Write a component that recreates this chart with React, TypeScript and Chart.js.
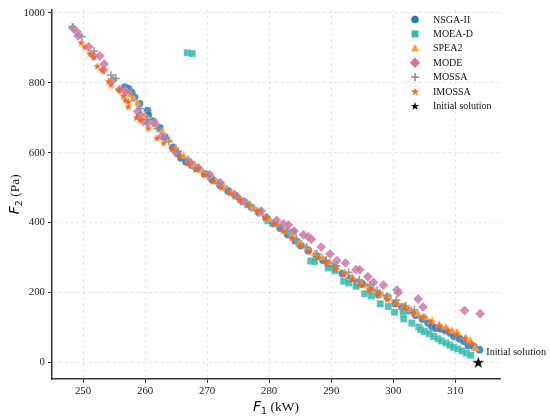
import { useEffect, useRef } from "react"
import { Chart, registerables, Plugin } from "chart.js"

Chart.register(...registerables)

type Pt = [number, number]

const xTicks = [250, 260, 270, 280, 290, 300, 310]
const yTicks = [0, 200, 400, 600, 800, 1000]

const nsga2: Pt[] = [
  [256.7, 787], [257.3, 783], [257.8, 772], [258.3, 758], [259.1, 740], [260.4, 720],
  [260.5, 708], [261.3, 690], [262.4, 671], [263.2, 645], [264.5, 615], [265.2, 598],
  [265.8, 585], [266.6, 574], [267.5, 565], [268.3, 556], [269.6, 540], [270.8, 523],
  [272.1, 507], [273.4, 490], [274.6, 476], [275.9, 460], [277.2, 443], [278.4, 428],
  [279.5, 414], [280.6, 398], [281.8, 384], [283.0, 366], [284.2, 348], [285.1, 334],
  [286.3, 320], [287.6, 304], [288.7, 292], [289.6, 281], [290.1, 276], [290.5, 270],
  [291.8, 254], [293.1, 240], [294.2, 229], [295.0, 224], [296.4, 206], [297.6, 194],
  [299.1, 186], [300.3, 168], [301.4, 158], [302.5, 148], [303.6, 135], [304.7, 124],
  [305.6, 113], [306.2, 103], [306.8, 98], [307.6, 96], [308.4, 91], [309.2, 84],
  [309.8, 74], [310.7, 67], [311.4, 60], [312.1, 48], [313.0, 44], [313.9, 36],
]

const moead: Pt[] = [
  [266.8, 886], [267.6, 884],
  [276.5, 452], [279.8, 405], [282.8, 378], [283.9, 372], [284.8, 340], [286.7, 290],
  [287.3, 288], [289.5, 270], [290.6, 262], [292.0, 232], [292.8, 227], [294.0, 218],
  [295.4, 196], [296.5, 190], [297.9, 167], [299.2, 160], [300.2, 143], [301.6, 139],
  [301.7, 124], [303.0, 112], [304.1, 101], [304.4, 93], [305.0, 88], [305.8, 82],
  [306.5, 74], [307.2, 67], [307.8, 61], [308.5, 55], [309.1, 49], [309.7, 43],
  [310.4, 38], [311.1, 32], [311.8, 26], [312.5, 20],
]

const spea2: Pt[] = [
  [257.0, 775], [257.6, 765], [258.2, 752], [258.8, 741], [260.0, 705], [260.6, 690],
  [261.6, 680], [262.8, 660], [263.9, 636], [265.0, 612], [266.2, 592], [267.1, 578],
  [268.0, 566], [269.2, 548], [270.3, 535], [271.5, 518], [272.7, 503], [273.9, 488],
  [275.1, 472], [276.3, 458], [277.5, 442], [278.8, 425], [280.0, 410], [281.2, 396],
  [282.5, 378], [283.7, 362], [284.9, 342], [286.1, 328], [287.4, 312], [288.5, 300],
  [289.7, 286], [290.9, 270], [292.2, 256], [293.4, 242], [294.6, 230], [295.8, 218],
  [297.0, 205], [298.2, 194], [299.3, 182], [300.6, 170], [301.8, 160], [302.9, 150],
  [304.0, 138], [305.2, 128], [306.3, 118], [307.4, 108], [308.5, 100], [309.5, 90],
  [310.3, 86], [311.7, 70], [312.4, 62], [313.2, 39],
]

const mode: Pt[] = [
  [248.4, 956], [249.0, 946], [249.2, 934], [250.9, 903], [251.7, 877], [252.7, 877],
  [253.4, 854], [253.3, 837], [254.8, 808], [255.9, 780], [256.9, 775], [258.8, 718],
  [259.2, 709], [259.7, 689], [260.4, 684], [261.6, 684], [262.7, 647], [264.8, 604],
  [267.3, 571], [268.6, 556], [270.4, 537], [272.1, 514], [274.4, 480], [275.5, 462],
  [278.7, 433], [281.2, 406], [282.3, 396], [283.1, 393], [284.0, 376], [285.5, 365],
  [286.3, 359], [286.8, 352], [288.4, 330], [289.8, 310], [290.9, 291], [292.3, 284],
  [294.0, 265], [294.6, 265], [295.9, 245], [296.8, 229], [298.4, 221], [300.6, 207],
  [300.8, 200], [304.0, 181], [304.8, 158], [311.5, 148], [314.0, 139],
]

const mossa: Pt[] = [
  [248.3, 960], [249.8, 932], [251.8, 891], [254.5, 822], [255.3, 813], [257.9, 772],
  [259.2, 726], [260.3, 694], [262.0, 668], [263.8, 632], [265.3, 604], [266.9, 580],
  [268.6, 555], [270.1, 534], [271.8, 512], [273.2, 495], [274.8, 476], [276.4, 455],
  [278.1, 434], [279.6, 416], [281.3, 392], [282.9, 374], [284.4, 352], [286.0, 330],
  [287.7, 310], [289.2, 292], [290.8, 276], [292.8, 257], [294.5, 236], [296.2, 221],
  [297.4, 206], [299.0, 190], [300.5, 178], [302.0, 162], [303.4, 150], [304.9, 129],
]

const imossa: Pt[] = [
  [249.7, 915], [250.3, 903], [251.1, 884], [251.7, 875], [252.3, 848], [253.1, 837],
  [254.1, 805], [254.5, 794], [255.8, 780], [256.5, 763], [256.8, 751], [257.3, 747],
  [257.3, 732], [258.6, 701], [259.2, 695], [260.5, 670], [261.9, 642], [263.0, 628],
  [264.3, 612], [265.6, 590], [266.9, 570], [268.2, 552], [269.5, 538], [270.9, 518],
  [272.3, 500], [273.7, 484], [275.2, 466], [276.6, 450], [278.0, 432], [279.4, 414],
  [280.8, 396], [282.2, 376], [283.6, 356], [285.0, 336], [286.4, 318], [287.8, 300],
  [289.2, 286], [290.6, 270], [292.0, 252], [293.4, 238], [294.8, 222], [296.2, 208],
  [297.6, 196], [299.0, 180], [300.4, 168], [301.8, 155], [303.2, 142], [304.6, 128],
  [306.0, 116], [307.4, 104], [308.8, 92], [310.2, 80], [311.5, 68], [312.6, 55],
]

const initialSolution: Pt[] = [[313.7, 0]]

const seriesNames = ["NSGA-II", "MOEA-D", "SPEA2", "MODE", "MOSSA", "IMOSSA", "Initial solution"]
const seriesData = [nsga2, moead, spea2, mode, mossa, imossa, initialSolution]
const seriesColors = [
  "rgba(47,120,184,0.85)",
  "rgba(52,186,172,0.85)",
  "rgba(255,155,50,0.85)",
  "rgba(204,121,167,0.85)",
  "rgba(145,145,145,0.85)",
  "#ff6414",
  "#000000",
]

const serif = "'Liberation Serif', 'Times New Roman', serif"

function starPath(g: CanvasRenderingContext2D, cx: number, cy: number, r: number) {
  g.beginPath()
  for (let i = 0; i < 10; i++) {
    const a = -Math.PI / 2 + (i * Math.PI) / 5
    const rr = i % 2 === 0 ? r : r * 0.382
    g.lineTo(cx + rr * Math.cos(a), cy + rr * Math.sin(a))
  }
  g.closePath()
}

function starImage(color: string, r: number) {
  const size = Math.ceil(r * 2 + 2)
  const c = document.createElement("canvas")
  c.width = size
  c.height = size
  const g = c.getContext("2d")!
  starPath(g, size / 2, size / 2 + r * 0.1, r)
  g.fillStyle = color
  g.fill()
  return c
}

function drawMarker(g: CanvasRenderingContext2D, kind: number, x: number, y: number, color: string) {
  g.save()
  g.fillStyle = color
  g.strokeStyle = color
  g.beginPath()
  if (kind === 0) {
    g.arc(x, y, 3.8, 0, Math.PI * 2)
    g.fill()
  } else if (kind === 1) {
    g.rect(x - 3.5, y - 3.5, 7, 7)
    g.fill()
  } else if (kind === 2) {
    g.moveTo(x, y - 4.2)
    g.lineTo(x + 3.9, y + 2.9)
    g.lineTo(x - 3.9, y + 2.9)
    g.closePath()
    g.fill()
  } else if (kind === 3) {
    g.moveTo(x, y - 5.2)
    g.lineTo(x + 5.2, y)
    g.lineTo(x, y + 5.2)
    g.lineTo(x - 5.2, y)
    g.closePath()
    g.fill()
  } else if (kind === 4) {
    g.lineWidth = 1.7
    g.moveTo(x - 3.9, y)
    g.lineTo(x + 3.9, y)
    g.moveTo(x, y - 3.9)
    g.lineTo(x, y + 3.9)
    g.stroke()
  } else {
    starPath(g, x, y + 0.4, 4.4)
    g.fill()
  }
  g.restore()
}

function drawMathLabel(
  g: CanvasRenderingContext2D, cx: number, baseline: number,
  sym: string, sub: string, rest: string
) {
  const symFont = "italic 14px 'DejaVu Sans'"
  const subFont = "9.5px 'DejaVu Sans'"
  const restFont = `13.5px ${serif}`
  g.font = symFont
  const w1 = g.measureText(sym).width
  g.font = subFont
  const w2 = g.measureText(sub).width
  g.font = restFont
  const w3 = g.measureText(rest).width
  let x = cx - (w1 + w2 + w3) / 2
  g.fillStyle = "#111"
  g.textBaseline = "alphabetic"
  g.textAlign = "left"
  g.font = symFont
  g.fillText(sym, x, baseline)
  x += w1
  g.font = subFont
  g.fillText(sub, x, baseline + 3)
  x += w2
  g.font = restFont
  g.fillText(rest, x, baseline)
}

const overlayPlugin: Plugin<"scatter"> = {
  id: "overlay",
  afterDraw(chart) {
    const { ctx, chartArea, scales } = chart
    const g = ctx
    g.save()
    // axis titles
    drawMathLabel(g, (chartArea.left + chartArea.right) / 2, 411, "F", "1", " (kW)")
    g.save()
    g.translate(19, (chartArea.top + chartArea.bottom) / 2)
    g.rotate(-Math.PI / 2)
    drawMathLabel(g, 0, 0, "F", "2", " (Pa)")
    g.restore()

    // legend
    const lx = 415
    const ty = 19.5
    seriesNames.forEach((name, i) => {
      const y = ty + i * 14.4
      drawMarker(g, i === 6 ? 5 : i, lx, y, i === 6 ? "#000" : seriesColors[i].replace("0.85", "1"))
      g.fillStyle = "#111"
      g.font = `10px ${serif}`
      g.textAlign = "left"
      g.textBaseline = "middle"
      g.fillText(name, lx + 18, y + 0.5)
    })

    // annotation
    const px = scales.x.getPixelForValue(initialSolution[0][0])
    const py = scales.y.getPixelForValue(initialSolution[0][1])
    g.font = `10.2px ${serif}`
    g.fillStyle = "#111"
    g.textAlign = "left"
    g.textBaseline = "middle"
    g.fillText("Initial solution", px + 8, py - 10)
    g.restore()
  },
}

export default function App() {
  const canvasRef = useRef<HTMLCanvasElement>(null)

  useEffect(() => {
    document.body.style.margin = "0"
    if (!canvasRef.current) return

    const smallStar = starImage("#ff6414", 4.2)
    const bigStar = starImage("#000", 6.2)
    const styles: any[] = ["circle", "rect", "triangle", "rectRot", "cross", smallStar, bigStar]
    const radii = [4, 5, 4.6, 5, 4, 4.2, 6.2]

    const datasets = seriesData.map((pts, i) => ({
      label: seriesNames[i],
      data: pts.map(([x, y]) => ({ x, y })),
      pointStyle: styles[i],
      pointRadius: radii[i],
      pointBackgroundColor: seriesColors[i],
      pointBorderColor: i === 4 ? seriesColors[i] : "rgba(255,255,255,0.5)",
      pointBorderWidth: i === 4 ? 1.7 : 0.4,
      order: 6 - i,
    }))

    const tickFont = { family: serif, size: 10.8 }
    const plain = (v: any) => String(v)

    const chart = new Chart(canvasRef.current, {
      type: "scatter",
      data: { datasets },
      options: {
        animation: false,
        responsive: false,
        events: [],
        layout: { padding: { left: 0, right: 50, top: 7, bottom: 0 } },
        plugins: { legend: { display: false }, tooltip: { enabled: false } },
        scales: {
          x: {
            type: "linear",
            min: 245,
            max: 317.2,
            afterFit: (s: any) => { s.height = 39 },
            afterBuildTicks: (s: any) => { s.ticks = xTicks.map(v => ({ value: v })) },
            ticks: { font: tickFont, color: "#222", padding: 2, maxRotation: 0, callback: plain },
            grid: { color: "rgba(0,0,0,0.13)", lineWidth: 0.8, tickColor: "#333", tickLength: 4, tickWidth: 1 },
            border: { display: true, color: "#333", width: 1.5, dash: [3, 3] },
          },
          y: {
            type: "linear",
            min: -48,
            max: 1010,
            afterFit: (s: any) => { s.width = 52 },
            afterBuildTicks: (s: any) => { s.ticks = yTicks.map(v => ({ value: v })) },
            ticks: { font: tickFont, color: "#222", padding: 3, callback: plain },
            grid: { color: "rgba(0,0,0,0.13)", lineWidth: 0.8, tickColor: "#333", tickLength: 4, tickWidth: 1 },
            border: { display: true, color: "#333", width: 1.5, dash: [3, 3] },
          },
        },
      },
      plugins: [overlayPlugin],
    } as any)

    return () => chart.destroy()
  }, [])

  return (
    <div style={{ width: 550, height: 418, background: "#fff" }}>
      <canvas ref={canvasRef} width={550} height={418} />
    </div>
  )
}
